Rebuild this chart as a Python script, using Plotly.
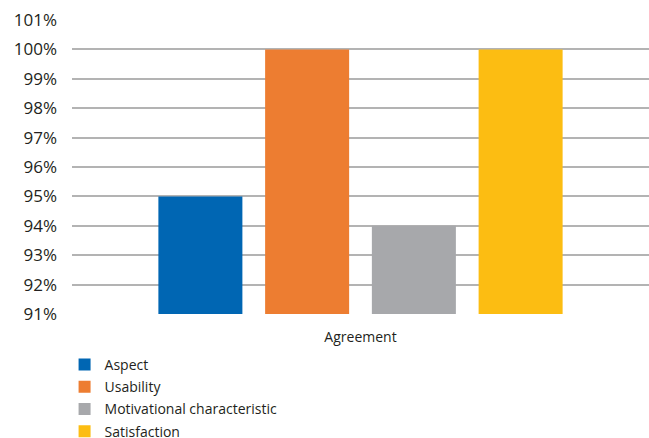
import plotly.graph_objects as go

categories = ["Agreement"]
series_names = ["Aspect", "Usability", "Motivational characteristic", "Satisfaction"]
series_values = [95, 100, 94, 100]
colors = ["#0066b3", "#ed7d31", "#a7a8ab", "#fcbd12"]
tick_vals = list(range(91, 102))
tick_text = [f"{v}%" for v in tick_vals]

fig = go.Figure()
for name, val, col in zip(series_names, series_values, colors):
    fig.add_trace(go.Bar(x=categories, y=[val], name=name, marker_color=col,
                         marker_line_width=0, legendgroup=name))

fig.update_layout(
    width=649, height=438,
    margin=dict(l=72, r=0, t=20, b=124, autoexpand=False),
    paper_bgcolor="white", plot_bgcolor="white",
    font=dict(family="Open Sans", color="#231f20"),
    barmode="group", bargap=0.26, bargroupgap=0.213,
    showlegend=True,
    legend=dict(orientation="v", xref="container", yref="container",
                x=0.0995, xanchor="left", y=1 - 349/438, yanchor="top",
                font=dict(size=14), tracegroupgap=1, bgcolor="rgba(0,0,0,0)"),
    xaxis=dict(showgrid=False, showline=False, ticks="", tickfont=dict(size=14),
               ticklabelstandoff=13),
    yaxis=dict(range=[91, 101], tickvals=tick_vals, ticktext=tick_text,
               showgrid=True, gridcolor="#b3b3b3", gridwidth=1.5,
               zeroline=False, showline=False, ticks="", ticklabelstandoff=14,
               tickfont=dict(size=17)),
)
fig.write_html("out.html")
